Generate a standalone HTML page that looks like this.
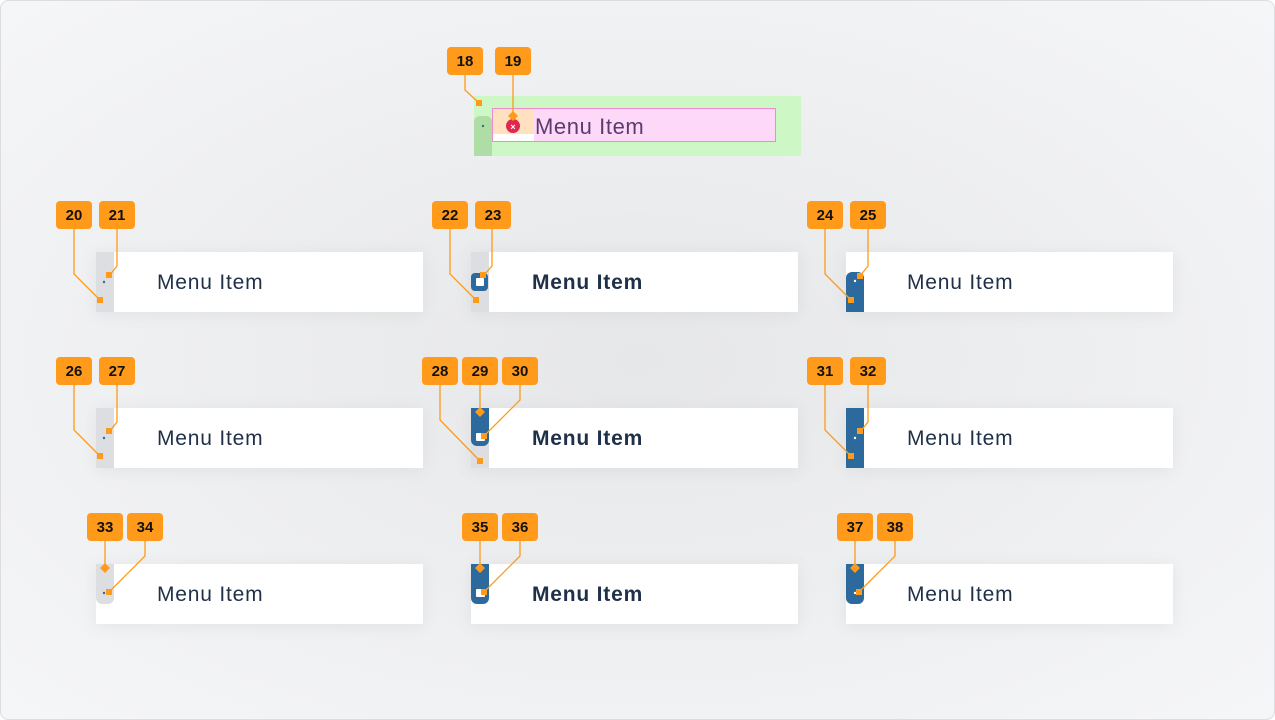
<!DOCTYPE html>
<html><head><meta charset="utf-8"><style>
html,body{margin:0;padding:0;background:#fff}
.wrap{position:relative;width:1275px;height:720px;overflow:hidden}
svg{display:block}
</style></head><body><div class="wrap">
<svg width="1275" height="720" viewBox="0 0 1275 720" xmlns="http://www.w3.org/2000/svg">
<defs>
<radialGradient id="bg" cx="50%" cy="50%" r="70%"><stop offset="0" stop-color="#e6e7e9"/><stop offset="1" stop-color="#f5f6f8"/></radialGradient>
<filter id="sh" x="-10%" y="-40%" width="120%" height="180%"><feDropShadow dx="0" dy="2" stdDeviation="8" flood-color="#000" flood-opacity="0.06"/></filter>
</defs>
<rect x="0.5" y="0.5" width="1274" height="719" rx="8" fill="url(#bg)" stroke="#dcdde0"/>
<g font-family="'Liberation Sans',sans-serif">
<!-- top -->
<rect x="474" y="96" width="327" height="60" fill="#cdf7c4"/>
<path d="M474 122a6 6 0 0 1 6-6h6a6 6 0 0 1 6 6v34h-18z" fill="#aedda5"/>
<circle cx="483" cy="126" r="1.2" fill="#2a7a6a"/>
<rect x="492.5" y="108.5" width="283" height="33" fill="#fed8f8" stroke="#f08acb"/>
<rect x="493" y="109" width="41" height="25" fill="#ffe0c0"/>
<rect x="493" y="134" width="41" height="7" fill="#fff"/>
<circle cx="513" cy="126" r="7" fill="#e0284e"/>
<text x="513" y="130" font-size="9" fill="#fff" text-anchor="middle" font-weight="bold">×</text>
<text x="535" y="134" font-size="22" fill="#5a3d6e" letter-spacing="0.6">Menu Item</text>
<!-- cards -->
<g fill="#fff" filter="url(#sh)">
<rect x="96" y="252" width="327" height="60"/><rect x="471" y="252" width="327" height="60"/><rect x="846" y="252" width="327" height="60"/>
<rect x="96" y="408" width="327" height="60"/><rect x="471" y="408" width="327" height="60"/><rect x="846" y="408" width="327" height="60"/>
<rect x="96" y="564" width="327" height="60"/><rect x="471" y="564" width="327" height="60"/><rect x="846" y="564" width="327" height="60"/>
</g>
<g font-size="21" fill="#1f3048" letter-spacing="0.8">
<text x="157" y="289">Menu Item</text><text x="532" y="289" font-weight="bold">Menu Item</text><text x="907" y="289">Menu Item</text>
<text x="157" y="445">Menu Item</text><text x="532" y="445" font-weight="bold">Menu Item</text><text x="907" y="445">Menu Item</text>
<text x="157" y="601">Menu Item</text><text x="532" y="601" font-weight="bold">Menu Item</text><text x="907" y="601">Menu Item</text>
</g>
<!-- bars row1 -->
<rect x="96" y="252" width="18" height="60" fill="#dcdee2"/><circle cx="104" cy="282" r="1.2" fill="#2c6a9e"/>
<rect x="471" y="252" width="18" height="60" fill="#dcdee2"/>
<rect x="471" y="273" width="17" height="18" rx="4" fill="#2c6a9e"/><rect x="476" y="278" width="8" height="8" rx="1" fill="#fff"/>
<path d="M846 278a6 6 0 0 1 6-6h6a6 6 0 0 1 6 6v34h-18z" fill="#2c6a9e"/><circle cx="855" cy="281" r="1.2" fill="#fff"/>
<!-- row2 -->
<rect x="96" y="408" width="18" height="60" fill="#dcdee2"/><circle cx="104" cy="438" r="1.2" fill="#2c6a9e"/>
<rect x="471" y="408" width="18" height="60" fill="#dcdee2"/>
<path d="M471 408h18v32a6 6 0 0 1-6 6h-6a6 6 0 0 1-6-6z" fill="#2c6a9e"/><rect x="476" y="433" width="9" height="8" rx="1" fill="#fff"/>
<rect x="846" y="408" width="18" height="60" fill="#2c6a9e"/><circle cx="855" cy="438" r="1.2" fill="#fff"/>
<!-- row3 -->
<path d="M96 564h18v34a6 6 0 0 1-6 6h-6a6 6 0 0 1-6-6z" fill="#dcdee2"/><circle cx="104" cy="593" r="1.2" fill="#2c6a9e"/>
<path d="M471 564h18v34a6 6 0 0 1-6 6h-6a6 6 0 0 1-6-6z" fill="#2c6a9e"/><rect x="476" y="589" width="9" height="8" rx="1" fill="#fff"/>
<path d="M846 564h18v34a6 6 0 0 1-6 6h-6a6 6 0 0 1-6-6z" fill="#2c6a9e"/><circle cx="855" cy="593" r="1.2" fill="#fff"/>
<!-- leaders -->
<g stroke="#ff9a1a" stroke-width="1.3" fill="none">
<polyline points="465,74 465,90 479,103"/><polyline points="513,74 513,116"/>
<polyline points="74,228 74,274 100,300"/><polyline points="117,228 117,266 109,276"/>
<polyline points="450,228 450,274 476,300"/><polyline points="492,228 492,266 483,276"/>
<polyline points="825,228 825,274 851,300"/><polyline points="868,228 868,266 860,276"/>
<polyline points="74,384 74,430 100,456"/><polyline points="117,384 117,422 109,432"/>
<polyline points="440,384 440,420 480,461"/><polyline points="480,384 480,412"/><polyline points="520,384 520,400 484,436"/>
<polyline points="825,384 825,430 851,456"/><polyline points="868,384 868,422 860,432"/>
<polyline points="105,540 105,568"/><polyline points="145,540 145,556 109,592"/>
<polyline points="480,540 480,568"/><polyline points="520,540 520,556 484,592"/>
<polyline points="855,540 855,568"/><polyline points="895,540 895,556 859,592"/>
</g>
<g fill="#ff9a1a">
<rect x="476" y="100" width="6" height="6"/><rect x="509.5" y="112.5" width="7" height="7" transform="rotate(45 513 116)"/>
<rect x="97" y="297" width="6" height="6"/><rect x="106" y="272" width="6" height="6"/>
<rect x="473" y="297" width="6" height="6"/><rect x="480" y="272" width="6" height="6"/>
<rect x="848" y="297" width="6" height="6"/><rect x="857" y="273" width="6" height="6"/>
<rect x="97" y="453" width="6" height="6"/><rect x="106" y="428" width="6" height="6"/>
<rect x="477" y="458" width="6" height="6"/><rect x="476.5" y="408.5" width="7" height="7" transform="rotate(45 480 412)"/><rect x="481" y="433" width="6" height="6"/>
<rect x="848" y="453" width="6" height="6"/><rect x="857" y="428" width="6" height="6"/>
<rect x="101.5" y="564.5" width="7" height="7" transform="rotate(45 105 568)"/><rect x="106" y="589" width="6" height="6"/>
<rect x="476.5" y="564.5" width="7" height="7" transform="rotate(45 480 568)"/><rect x="481" y="589" width="6" height="6"/>
<rect x="851.5" y="564.5" width="7" height="7" transform="rotate(45 855 568)"/><rect x="856" y="589" width="6" height="6"/>
</g>
<!-- badges -->
<g font-size="15" font-weight="bold" text-anchor="middle">
<g fill="#ff9a1a">
<rect x="447" y="47" width="36" height="28" rx="4"/><rect x="495" y="47" width="36" height="28" rx="4"/>
<rect x="56" y="201" width="36" height="28" rx="4"/><rect x="99" y="201" width="36" height="28" rx="4"/>
<rect x="432" y="201" width="36" height="28" rx="4"/><rect x="475" y="201" width="36" height="28" rx="4"/>
<rect x="807" y="201" width="36" height="28" rx="4"/><rect x="850" y="201" width="36" height="28" rx="4"/>
<rect x="56" y="357" width="36" height="28" rx="4"/><rect x="99" y="357" width="36" height="28" rx="4"/>
<rect x="422" y="357" width="36" height="28" rx="4"/><rect x="462" y="357" width="36" height="28" rx="4"/><rect x="502" y="357" width="36" height="28" rx="4"/>
<rect x="807" y="357" width="36" height="28" rx="4"/><rect x="850" y="357" width="36" height="28" rx="4"/>
<rect x="87" y="513" width="36" height="28" rx="4"/><rect x="127" y="513" width="36" height="28" rx="4"/>
<rect x="462" y="513" width="36" height="28" rx="4"/><rect x="502" y="513" width="36" height="28" rx="4"/>
<rect x="837" y="513" width="36" height="28" rx="4"/><rect x="877" y="513" width="36" height="28" rx="4"/>
</g>
<g fill="#111">
<text x="465" y="66">18</text><text x="513" y="66">19</text>
<text x="74" y="220">20</text><text x="117" y="220">21</text>
<text x="450" y="220">22</text><text x="493" y="220">23</text>
<text x="825" y="220">24</text><text x="868" y="220">25</text>
<text x="74" y="376">26</text><text x="117" y="376">27</text>
<text x="440" y="376">28</text><text x="480" y="376">29</text><text x="520" y="376">30</text>
<text x="825" y="376">31</text><text x="868" y="376">32</text>
<text x="105" y="532">33</text><text x="145" y="532">34</text>
<text x="480" y="532">35</text><text x="520" y="532">36</text>
<text x="855" y="532">37</text><text x="895" y="532">38</text>
</g>
</g>
</g>
</svg>
</div></body></html>
